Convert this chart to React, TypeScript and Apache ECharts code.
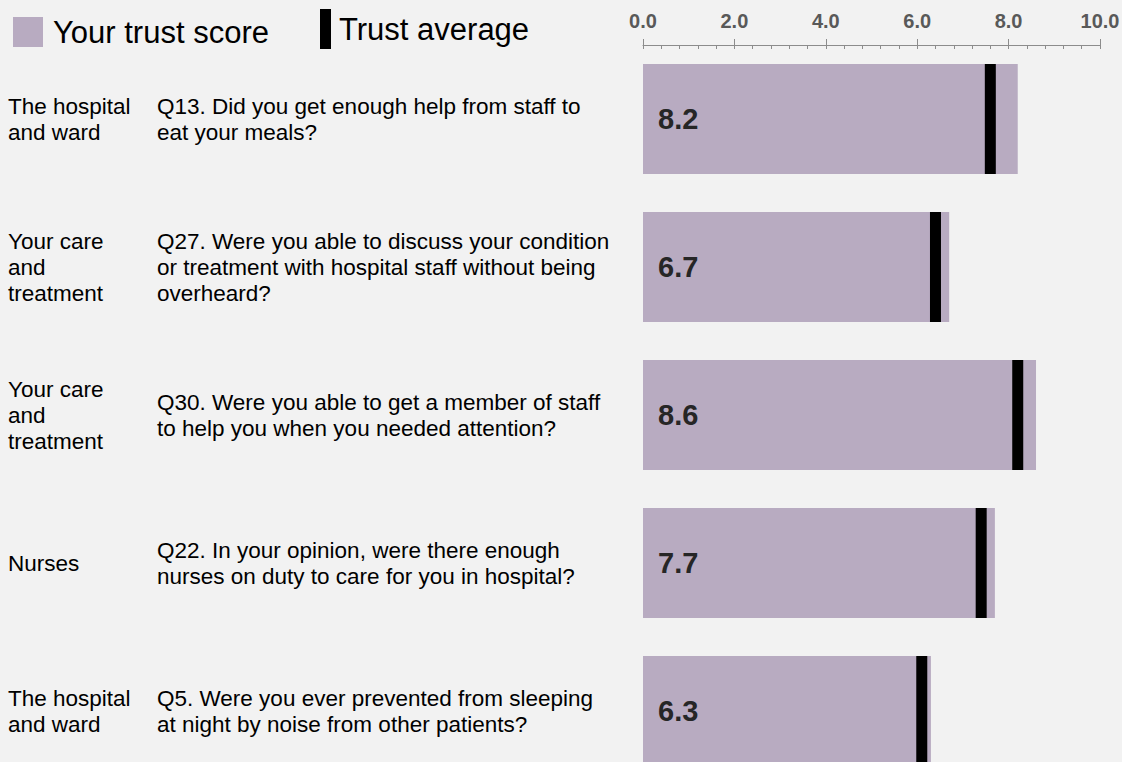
import React, { useEffect, useRef } from "react";
import * as echarts from "echarts";

// ---- data ----
const questionIds = ["Q13", "Q27", "Q30", "Q22", "Q5"];
const sections = [
  "The hospital\nand ward",
  "Your care\nand\ntreatment",
  "Your care\nand\ntreatment",
  "Nurses",
  "The hospital\nand ward",
];
const questions = [
  "Q13. Did you get enough help from staff to\neat your meals?",
  "Q27. Were you able to discuss your condition\nor treatment with hospital staff without being\noverheard?",
  "Q30. Were you able to get a member of staff\nto help you when you needed attention?",
  "Q22. In your opinion, were there enough\nnurses on duty to care for you in hospital?",
  "Q5. Were you ever prevented from sleeping\nat night by noise from other patients?",
];
const trustScores = [8.2, 6.7, 8.6, 7.7, 6.3];
const trustAverages = [7.6, 6.4, 8.2, 7.4, 6.1];
const legendLabels = ["Your trust score", "Trust average"];
const axisMin = 0;
const axisMax = 10;
const axisStep = 2;

const FONT = "'Liberation Sans', Arial, sans-serif";
const BAR_COLOR = "#b8abc1";
const AXIS_COLOR = "#8c8c8c";

export default function App() {
  const ref = useRef<HTMLDivElement>(null);
  useEffect(() => {
    if (!ref.current) return;
    const chart = echarts.init(ref.current, undefined, { renderer: "svg" });
    const textLabel = (margin: number, lines: string[]) => ({
      align: "left",
      margin,
      formatter: (_v: string, i: number) => lines[i],
      fontFamily: FONT,
      fontSize: 22.5,
      lineHeight: 26,
      color: "#000",
      verticalAlign: "middle",
    });
    const option: any = {
      animation: false,
      backgroundColor: "#f2f2f2",
      grid: {
        left: 643,
        top: 45,
        width: 457,
        height: 740,
        containLabel: false,
        outerBoundsMode: "none",
      },
      xAxis: [
        {
          type: "value",
          position: "top",
          min: axisMin,
          max: axisMax,
          interval: axisStep,
          axisLine: { show: true, lineStyle: { color: AXIS_COLOR, width: 1 } },
          axisTick: { show: true, inside: true, length: 4, lineStyle: { color: AXIS_COLOR } },
          minorTick: { show: true, splitNumber: 5, length: 4, lineStyle: { color: AXIS_COLOR } },
          axisLabel: {
            show: true,
            formatter: (v: number) => v.toFixed(1),
            fontFamily: FONT,
            fontSize: 20,
            fontWeight: "bold",
            color: "#595959",
            margin: 14,
          },
          splitLine: { show: false },
        },
        {
          type: "value",
          position: "top",
          min: axisMin,
          max: axisMax,
          interval: axisStep,
          axisLine: { show: false },
          axisTick: { show: true, inside: false, length: 6, lineStyle: { color: AXIS_COLOR } },
          axisLabel: { show: false },
          splitLine: { show: false },
        },
      ],
      yAxis: [
        {
          type: "category",
          inverse: true,
          data: questionIds,
          axisLine: { show: false },
          axisTick: { show: false },
          axisLabel: { show: false },
        },
        {
          type: "category",
          inverse: true,
          position: "left",
          data: questionIds,
          axisLine: { show: false },
          axisTick: { show: false },
          axisLabel: textLabel(635, sections),
        },
        {
          type: "category",
          inverse: true,
          position: "left",
          data: questionIds,
          axisLine: { show: false },
          axisTick: { show: false },
          axisLabel: textLabel(486, questions),
        },
      ],
      series: [
        {
          type: "bar",
          name: legendLabels[0],
          xAxisIndex: 0,
          yAxisIndex: 0,
          data: trustScores,
          barWidth: 110,
          itemStyle: { color: BAR_COLOR },
          label: {
            show: true,
            position: "insideLeft",
            distance: 15,
            formatter: (p: any) => Number(p.value).toFixed(1),
            fontFamily: FONT,
            fontSize: 29,
            fontWeight: "bold",
            color: "#262626",
          },
        },
        {
          type: "scatter",
          name: legendLabels[1],
          xAxisIndex: 0,
          yAxisIndex: 0,
          data: trustAverages.map((v, i) => [v, i]),
          symbol: "rect",
          symbolSize: [11, 110],
          itemStyle: { color: "#000", opacity: 1 },
          z: 5,
        },
      ],
      graphic: [
        { type: "rect", shape: { x: 13, y: 17, width: 30, height: 30 }, style: { fill: BAR_COLOR } },
        {
          type: "text",
          x: 53,
          y: 32,
          style: { text: legendLabels[0], fontFamily: FONT, fontSize: 31, fill: "#000", verticalAlign: "middle" },
        },
        { type: "rect", shape: { x: 320, y: 9, width: 11, height: 40 }, style: { fill: "#000" } },
        {
          type: "text",
          x: 339,
          y: 29,
          style: { text: legendLabels[1], fontFamily: FONT, fontSize: 31, fill: "#000", verticalAlign: "middle" },
        },
      ],
    };
    chart.setOption(option);
    return () => chart.dispose();
  }, []);
  return (
    <div
      ref={ref}
      style={{ position: "fixed", left: 0, top: 0, width: 1122, height: 762 }}
    />
  );
}
